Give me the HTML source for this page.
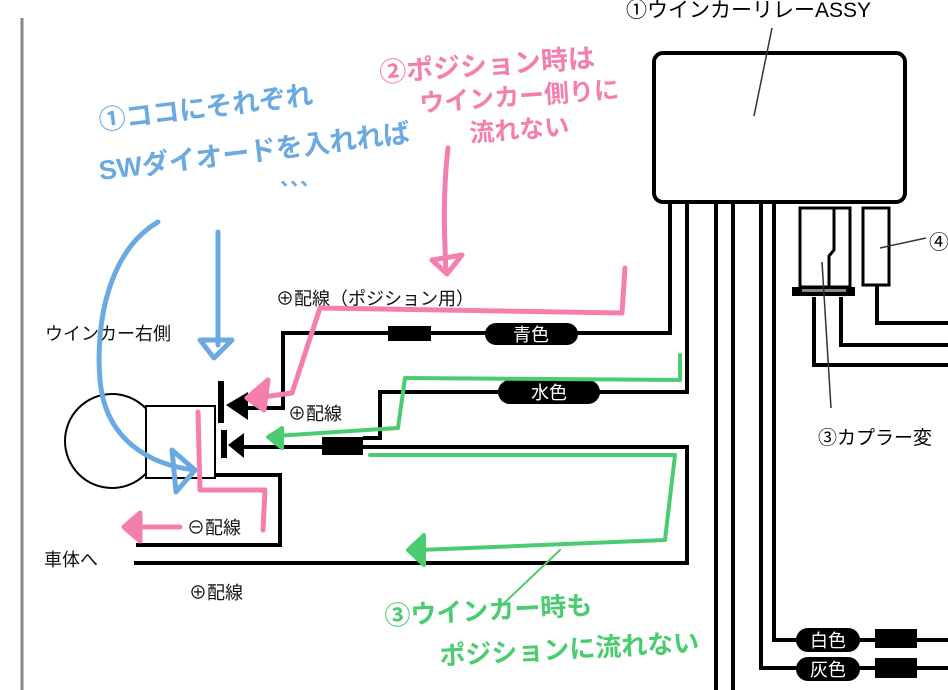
<!DOCTYPE html>
<html><head><meta charset="utf-8"><style>
html,body{margin:0;padding:0;background:#fff;width:948px;height:690px;overflow:hidden}
svg text{font-family:"Liberation Sans","Noto Sans CJK JP",sans-serif}
.h{font-family:"Noto Sans CJK JP","WenQuanYi Zen Hei",sans-serif;font-weight:bold}
</style></head><body>
<svg width="948" height="690" viewBox="0 0 948 690" xmlns="http://www.w3.org/2000/svg">
<line x1="22" y1="18" x2="22" y2="690" stroke="#888" stroke-width="3"/>
<g fill="none" stroke="#000" stroke-width="4">
<rect x="654" y="53" width="251" height="149" rx="9"/>
<polyline points="670,202 670,333 283,333 283,408 247,408"/>
<polyline points="687,202 687,392 380,392 380,438 363,438"/>
<line x1="716" y1="202" x2="716" y2="690"/>
<line x1="733" y1="202" x2="733" y2="690"/>
<polyline points="761,202 761,668 948,668"/>
<polyline points="774,202 774,640 948,640"/>
<polyline points="238,447 687,447 687,563 134,563"/>
<polyline points="215,475 280,475 280,545 136,545"/>
<rect x="800" y="208" width="50" height="79" stroke-width="3"/>
<polyline points="834,208 834,250 829,256 829,287" stroke-width="3"/>
<rect x="863" y="208" width="26" height="77" stroke-width="3"/>
<polyline points="877,285 877,323 948,323"/>
<polyline points="814,297 814,365 948,365"/>
<polyline points="841,297 841,345 948,345"/>
</g>
<rect x="792" y="287" width="63" height="9" fill="#000"/>
<rect x="802" y="289" width="44" height="3" fill="#888"/>
<g stroke="#333" stroke-width="1.5" fill="none">
<line x1="772" y1="28" x2="754" y2="116"/>
<line x1="880" y1="248" x2="926" y2="238"/>
<line x1="822" y1="262" x2="831" y2="408"/>
</g>
<text x="626" y="17" font-size="21" fill="#000">①ウインカーリレーASSY</text>
<text x="929" y="249" font-size="20" fill="#000">④</text>
<text x="818" y="444" font-size="19" fill="#000">③カプラー変</text>
<rect x="388" y="326" width="43" height="15" fill="#000"/>
<rect x="485" y="323" width="93" height="22" rx="11" fill="#000"/>
<text x="531" y="341" font-size="18" fill="#fff" text-anchor="middle">青色</text>
<rect x="498" y="380" width="102" height="24" rx="12" fill="#000"/>
<text x="549" y="399" font-size="18" fill="#fff" text-anchor="middle">水色</text>
<rect x="322" y="437" width="41" height="18" fill="#000"/>
<rect x="796" y="628" width="64" height="24" rx="12" fill="#000"/>
<text x="828" y="647" font-size="18" fill="#fff" text-anchor="middle">白色</text>
<rect x="875" y="629" width="42" height="19" fill="#000"/>
<rect x="796" y="657" width="64" height="24" rx="12" fill="#000"/>
<text x="828" y="676" font-size="18" fill="#fff" text-anchor="middle">灰色</text>
<rect x="875" y="658" width="42" height="20" fill="#000"/>
<circle cx="112" cy="441" r="47" fill="#fff" stroke="#000" stroke-width="2"/>
<rect x="146" y="406" width="69" height="72" fill="#fff" stroke="#000" stroke-width="2"/>
<rect x="218" y="381" width="6" height="42" fill="#000"/>
<polygon points="226,405 248,392 248,420" fill="#000"/>
<rect x="221" y="430" width="6" height="28" fill="#000"/>
<polygon points="228,445 244,433 244,458" fill="#000"/>
<g font-size="18" fill="#111">
<text x="45" y="340">ウインカー右側</text>
<text x="276" y="305">⊕配線（ポジション用）</text>
<text x="288" y="420">⊕配線</text>
<text x="187" y="534">⊖配線</text>
<text x="44" y="566">車体へ</text>
<text x="189" y="599">⊕配線</text>
</g>
<g class="h" fill="#6aaae0" font-size="27">
<text x="100" y="130" transform="rotate(-7 100 130)">①ココにそれぞれ</text>
<text x="100" y="180" transform="rotate(-7 100 180)">SWダイオードを入れれば</text>
<text x="280" y="185" font-size="20">、、、</text>
</g>
<g fill="none" stroke="#6aaae0" stroke-width="5" stroke-linecap="round" stroke-linejoin="round">
<path d="M158,222 C110,250 95,320 100,380 C105,440 150,465 195,470"/>
<polygon points="172,450 195,470 176,492"/>
<line x1="218" y1="232" x2="218" y2="345"/>
<polygon points="200,340 232,340 214,358"/>
</g>
<g class="h" fill="#f47fae" font-size="27">
<text x="380" y="82" transform="rotate(-4 380 82)">②ポジション時は</text>
<text x="420" y="112" transform="rotate(-4 420 112)" font-size="25">ウインカー側りに</text>
<text x="470" y="142" transform="rotate(-4 470 142)" font-size="25">流れない</text>
</g>
<g fill="none" stroke="#f47fae" stroke-width="5" stroke-linecap="round" stroke-linejoin="round">
<path d="M448,148 C443,190 444,230 446,272"/>
<polygon points="432,260 462,255 447,274"/>
<polyline points="625,268 622,313 320,308 292,393 255,398"/>
<polygon points="247,398 268,380 264,410" fill="#f47fae"/>
<polyline points="198,412 200,490 265,490 263,530"/>
<line x1="180" y1="527" x2="135" y2="527"/>
<polygon points="124,527 140,513 140,541" fill="#f47fae"/>
</g>
<g class="h" fill="#4ccc70" font-size="26">
<text x="385" y="625" transform="rotate(-3 385 625)">③ウインカー時も</text>
<text x="440" y="665" transform="rotate(-3 440 665)">ポジションに流れない</text>
</g>
<g fill="none" stroke="#4ccc70" stroke-width="4" stroke-linecap="round" stroke-linejoin="round">
<polyline points="680,355 680,380 405,378 398,428 275,436"/>
<polygon points="268,437 282,428 282,448" fill="#4ccc70"/>
<polyline points="370,455 675,455 665,540 420,550"/>
<polygon points="408,550 424,535 424,565" fill="#4ccc70"/>
<line x1="560" y1="550" x2="500" y2="607" stroke-width="2"/>
</g>
</svg>
</body></html>
